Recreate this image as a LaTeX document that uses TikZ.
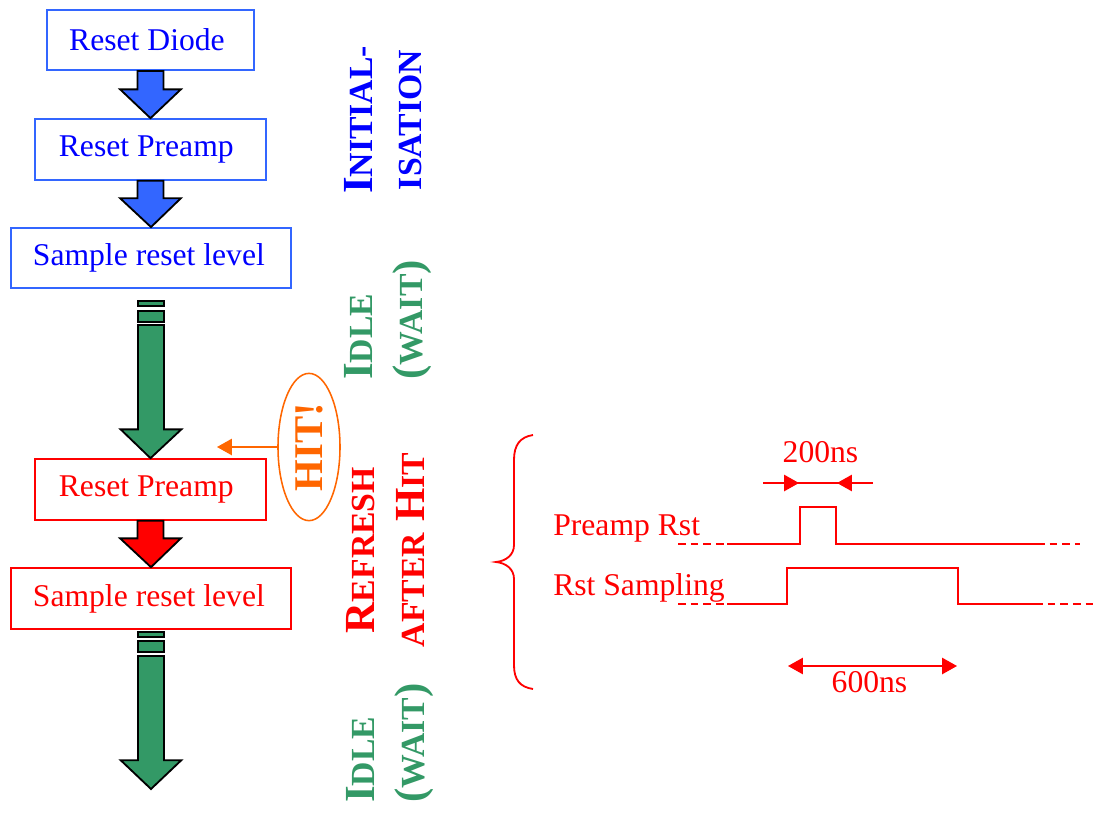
\documentclass[tikz,border=0pt]{standalone}
\usepackage{fontspec}
\setmainfont{Liberation Serif}
\usetikzlibrary{arrows.meta,calc,shapes.geometric}

\definecolor{boxblue}{RGB}{51,102,255}
\definecolor{idlegreen}{RGB}{51,153,102}
\definecolor{hitorange}{RGB}{255,102,0}

% small capitals, faked the way the slide does it
\newcommand{\smcap}[1]{{\fontsize{24}{35}\selectfont #1}}
% fat block arrow: fill colour, start, tip
\newcommand{\fatarrow}[3]{%
  \draw[fat, fill=#1] let \p1=(#2), \p2=(#3) in
    (\x1-9.2pt,\y1) -- (\x1-9.2pt,\y2+20.5pt) -- (\x1-21.6pt,\y2+20.5pt) -- (\x2,\y2)
    -- (\x1+21.6pt,\y2+20.5pt) -- (\x1+9.2pt,\y2+20.5pt) -- (\x1+9.2pt,\y1) -- cycle;}

\tikzset{
  stage/.style={draw, line width=1.3pt, fill=white, inner sep=0pt,
    font=\fontsize{22.5}{27}\selectfont},
  fat/.style={draw=black, line width=1.3pt, line join=miter},
  lab/.style={rotate=90, align=center, inner sep=0pt,
    font=\fontsize{30.5}{35}\selectfont\bfseries},
  wave/.style={red, line width=1.3pt},
  dim/.style={red, line width=1.1pt},
  sig/.style={anchor=base west, inner sep=0pt, text=red,
    font=\fontsize{22.5}{27}\selectfont},
  >={Triangle[length=10.5pt,width=11.5pt]},
}

\begin{document}
\begin{tikzpicture}[x=0.025cm, y=-0.025cm]
    \useasboundingbox (0,0) rectangle (1094,823);

    % Initialisation
    \node[stage, draw=boxblue, text=blue, minimum width=5.18cm, minimum height=1.5cm] (rd) at (150.5,40) {Reset Diode\hspace*{5pt}};
    \node[stage, draw=boxblue, text=blue, minimum width=5.78cm, minimum height=1.52cm] (rp1) at (150.5,149.5) {Reset Preamp\hspace*{6pt}};
    \node[stage, draw=boxblue, text=blue, minimum width=7cm, minimum height=1.5cm] (srl1) at (151,258) {Sample reset level\hspace*{3pt}};
    \fatarrow{boxblue}{rd.south}{rp1.north}
    \fatarrow{boxblue}{rp1.south}{srl1.north}

    % Refresh after hit
    \node[stage, draw=red, text=red, minimum width=5.78cm, minimum height=1.52cm] (rp2) at (150.5,489.5) {Reset Preamp\hspace*{6pt}};
    \node[stage, draw=red, text=red, minimum width=7cm, minimum height=1.52cm] (srl2) at (151,598.5) {Sample reset level\hspace*{3pt}};
    \fatarrow{red}{rp2.south}{srl2.north}

    % Idle arrows
    \draw[fat, fill=idlegreen] (138,301) rectangle (164,306);
    \draw[fat, fill=idlegreen] (138,311) rectangle (164,322);
    \coordinate (g1) at (151,325);
    \fatarrow{idlegreen}{g1}{rp2.north}
    \draw[fat, fill=idlegreen] (138,632) rectangle (164,637);
    \draw[fat, fill=idlegreen] (138,641) rectangle (164,652);
    \coordinate (g2) at (151,656);
    \coordinate (g2end) at (151,789);
    \fatarrow{idlegreen}{g2}{g2end}

    % HIT!
    \node[ellipse, draw=hitorange, line width=1.1pt, rotate=90, inner sep=0pt,
      minimum width=3.68cm, minimum height=1.55cm, text=hitorange,
      font=\fontsize{29}{35}\selectfont\bfseries] (hit) at (309,447) {HIT!};
    \coordinate (hitend) at (217,447);
    \draw[->, hitorange, line width=1.1pt] (hit.north) -- (hitend);

    % Phase labels
    \node[lab, text=blue] (init) at (383.5,120) {I\smcap{NITIAL-}\\\smcap{ISATION}};
    \node[lab, text=idlegreen, align=left, anchor=west] (idle1) at (388,380) {I\smcap{DLE}\\(\smcap{W\kern-2pt AIT})};
    \node[lab, text=red] (refresh) at (385.5,550) {R\smcap{EFRESH}\\\smcap{AFTER} H\smcap{IT}};
    \node[lab, text=idlegreen, align=left, anchor=west] (idle2) at (390,803) {I\smcap{DLE}\\(\smcap{W\kern-2pt AIT})};

    % Timing
    \draw[red, line width=1.3pt] (533,435) .. controls (520,437) and (514,445) .. (514,460) -- (514,545)
      .. controls (514,555) and (506,561) .. (496,562) .. controls (506,563) and (514,569) .. (514,579)
      -- (514,665) .. controls (514,680) and (520,687) .. (533,689);
    \node[sig] (prst) at (553,535) {Preamp Rst};
    \node[sig] (rsamp) at (553,595) {Rst Sampling};
    \draw[wave] (727,544) -- (800,544) -- (800,507) -- (836,507) -- (836,544) -- (1037,544);
    \draw[wave, dash pattern=on 5.5pt off 3.5pt] (678,544) -- (727,544);
    \draw[wave, dash pattern=on 5.5pt off 3.5pt] (1037,544) -- (1080,544);
    \draw[wave] (727,604) -- (787,604) -- (787,568) -- (958,568) -- (958,604) -- (1035,604);
    \draw[wave, dash pattern=on 5.5pt off 3.5pt] (678,604) -- (727,604);
    \draw[wave, dash pattern=on 5.5pt off 3.5pt] (1035,604) -- (1093,604);

    \draw[dim] (763,483) -- (873,483);
    \draw[dim, ->] (763,483) -- (799,483);
    \draw[dim, ->] (873,483) -- (837,483);
    \node[sig, anchor=base] (t200) at (820.5,462) {200ns};
    \draw[dim, <->] (788,666) -- (957,666);
    \node[sig, anchor=base] (t600) at (869.5,692) {600ns};
\end{tikzpicture}
\end{document}
